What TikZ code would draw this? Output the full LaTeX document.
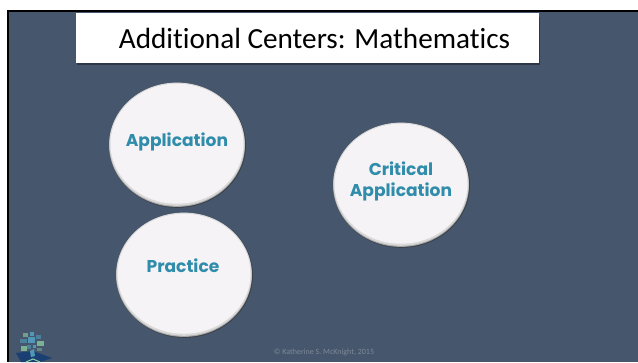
\documentclass[tikz,border=0pt]{standalone}
\usepackage{fontspec}
\setmainfont[Ligatures=NoCommon]{Carlito}
\newfontfamily\labelfont[BoldFont={Poppins Bold}]{Poppins}
\definecolor{slidebg}{HTML}{46566C}
\definecolor{discfill}{HTML}{F5F3F5}
\definecolor{disctext}{HTML}{2F8CAB}
\definecolor{logogreen}{HTML}{8FD0A0}
\definecolor{logoblue}{HTML}{55B5D5}
\definecolor{logonavy}{HTML}{1A3F73}
\usetikzlibrary{shapes.geometric}
\tikzset{
  x=1pt,y=-1pt,
  disctitle/.style={font=\labelfont\bfseries\fontsize{17.1}{21}\selectfont,text=disctext,align=center,inner sep=0}
}
\newcommand{\bevdisc}[6]{% name, x, y, text, text x, text y
  \fill[black!80,opacity=.6] (#2+.5,#3+1.4) ellipse [x radius=68.4,y radius=62.4];
  \fill[gray!70!white] (#2,#3+.9) ellipse [x radius=68,y radius=62];
  \fill[gray!30!white] (#2,#3+.2) ellipse [x radius=67.6,y radius=61.6];
  \node[fill=discfill,ellipse,inner sep=0,minimum width=133pt,minimum height=120pt] (#1) at (#2,#3-.3) {};
  \node[disctitle] (#1text) at (#5,#6) {#4};
}
\begin{document}
\begin{tikzpicture}
\useasboundingbox (0,0) rectangle (638,362);
\fill[white] (0,0) rectangle (638,362);
\fill[black] (7,9.5) rectangle (638,362);
\fill[slidebg] (9.3,12) rectangle (638,362);
% title
\fill[black,opacity=.35] (77,17) rectangle (540,64.5);
\node[fill=white,inner sep=0,minimum width=463pt,minimum height=50.5pt] (titlebox) at (307.5,38) {};
\node[font=\fontsize{29.2}{32}\selectfont,text=black] (titletext) at (314.5,38) {Additional Centers: Mathematics};
% discs
\bevdisc{practice}{184}{274}{Practice}{183}{265.5}
\bevdisc{application}{177}{144}{Application}{177}{141.5}
\bevdisc{critical}{401}{184}{Critical\\Application}{401}{181}
% footer
\node[font=\fontsize{8}{9}\selectfont,text=white!30!slidebg] (footer) at (324,352.5) {© Katherine S. McKnight, 2015};
% logo
\begin{scope}
\fill[logonavy] (16,353) -- (33,351) -- (52,358) -- (40,362) -- (21,362) -- cycle;
\fill[logoblue!70!slidebg] (30,351) -- (34,349) -- (35,356) -- (31,357) -- cycle;
\draw[logogreen,line width=1pt] (26,362) -- (33,359) -- (40,362);
\fill[logoblue!70!slidebg] (28,337) rectangle (35,343);
\fill[logogreen!75!slidebg] (37,341) rectangle (44,346);
\fill[logogreen!75!slidebg] (21,346) rectangle (27,351);
\fill[logogreen!60!slidebg] (23,333) rectangle (28,337);
\fill[logoblue!70!slidebg] (30,332) rectangle (34,336);
\fill[logoblue!70!slidebg] (33,345) rectangle (36,348);
\fill[logoblue!45!slidebg] (20,339) rectangle (27,343);
\fill[logoblue!45!slidebg] (27,345) rectangle (31,349);
\fill[logoblue!45!slidebg] (36,335) rectangle (41,339);
\fill[logogreen!40!slidebg] (37,348) rectangle (42,351);
\end{scope}
\end{tikzpicture}
\end{document}
